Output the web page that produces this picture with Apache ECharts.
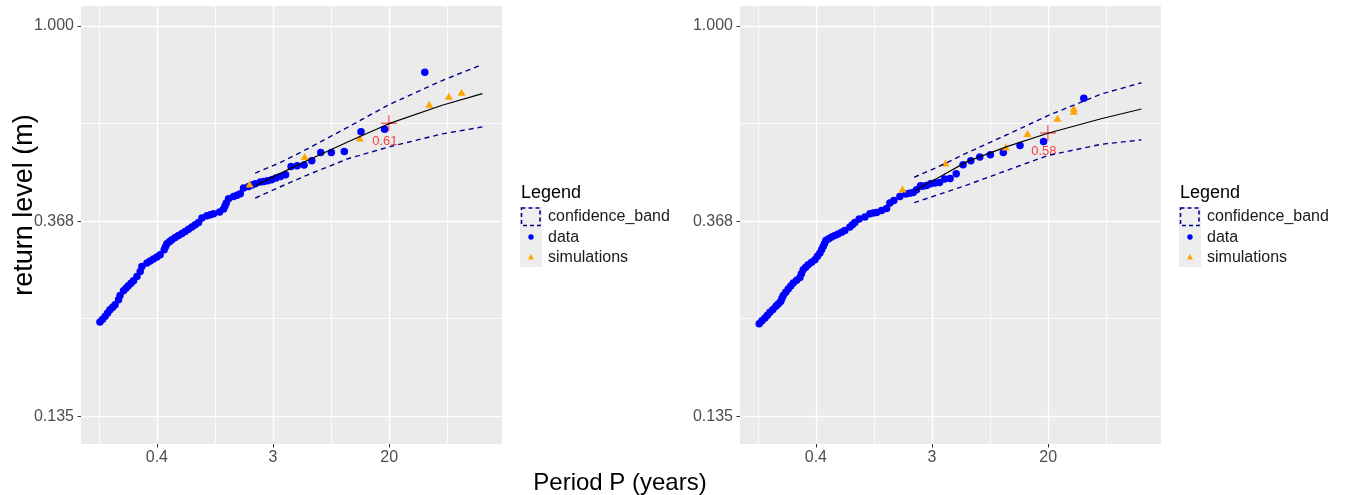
<!DOCTYPE html>
<html>
<head>
<meta charset="utf-8">
<script src="https://cdn.jsdelivr.net/npm/echarts@6/dist/echarts.min.js"></script>
<style>
  html, body { margin: 0; padding: 0; background: #fff; }
  #chart { width: 1349px; height: 495px; }
</style>
</head>
<body>
<div id="chart"></div>
<script>
// axis breaks (natural log scale on both axes)
const xBreaks = [-1, 1, 3];
const xBreakLabels = ["0.4", "3", "20"];
const xMinorBreaks = [-2, 0, 2, 4];
const yBreaks = [-2, -1, 0];
const yBreakLabels = ["0.135", "0.368", "1.000"];
const yMinorBreaks = [-1.5, -0.5];

// left panel: observed return levels
const leftObsPeriod = [0.138, 0.1445, 0.151, 0.1575, 0.164, 0.1717, 0.179, 0.190, 0.195, 0.207, 0.2159, 0.225, 0.2354, 0.246, 0.261, 0.276, 0.284, 0.310, 0.3277, 0.347, 0.3679, 0.389, 0.417, 0.4267, 0.437, 0.4564, 0.476, 0.5043, 0.534, 0.5661, 0.599, 0.6343, 0.673, 0.712, 0.754, 0.799, 0.871, 0.9222, 0.976, 1.083, 1.160, 1.1882, 1.215, 1.264, 1.378, 1.461, 1.547, 1.637, 1.785, 1.8925, 2.003, 2.184, 2.319, 2.473, 2.650, 2.854, 3.092, 3.373, 3.710, 4.122, 4.638, 5.300, 6.183, 7.420, 9.275, 12.37, 18.55, 37.10];
const leftObsLevel = [0.2194, 0.2226, 0.2258, 0.2298, 0.2337, 0.2367, 0.2397, 0.2460, 0.2514, 0.2576, 0.2609, 0.2642, 0.2676, 0.2711, 0.2771, 0.2843, 0.2917, 0.2968, 0.2998, 0.3029, 0.3061, 0.3097, 0.3177, 0.3226, 0.3276, 0.3310, 0.3344, 0.3382, 0.3418, 0.3453, 0.3489, 0.3529, 0.3568, 0.3611, 0.3654, 0.3737, 0.3781, 0.3800, 0.3820, 0.3853, 0.3913, 0.3973, 0.4035, 0.4125, 0.4174, 0.4199, 0.4232, 0.4357, 0.4393, 0.4424, 0.4454, 0.4493, 0.4507, 0.4523, 0.4546, 0.4586, 0.4624, 0.4664, 0.4867, 0.4884, 0.4901, 0.5010, 0.5228, 0.5228, 0.5254, 0.5812, 0.5893, 0.7890];
const leftSimPeriod = [1.816, 4.687, 12.10, 40.03, 56.13, 69.87];
const leftSimLevel = [0.4447, 0.5122, 0.5628, 0.6698, 0.6977, 0.7122];
const leftFitPeriod = [2, 3, 5, 10, 20, 50, 100];
const leftFitLevel = [0.441, 0.468, 0.503, 0.553, 0.606, 0.666, 0.707];
const leftFitUpper = [0.4705, 0.4947, 0.534, 0.5966, 0.668, 0.7558, 0.8207];
const leftFitLower = [0.414, 0.437, 0.4669, 0.507, 0.538, 0.575, 0.596];
const leftMark = [20, 0.607];

// right panel
const rightObsPeriod = [0.1386, 0.1452, 0.1529, 0.1596, 0.1667, 0.1755, 0.1848, 0.1923, 0.2004, 0.2049, 0.2096, 0.2188, 0.2284, 0.2384, 0.2489, 0.2639, 0.2793, 0.2866, 0.2956, 0.3086, 0.3222, 0.3416, 0.3616, 0.3775, 0.3941, 0.4058, 0.4171, 0.4273, 0.4370, 0.4585, 0.4820, 0.5102, 0.5400, 0.5725, 0.6060, 0.6605, 0.6895, 0.7199, 0.7752, 0.8551, 0.9318, 0.9863, 1.0458, 1.1397, 1.2422, 1.3148, 1.4085, 1.5617, 1.7316, 1.8454, 1.9635, 2.0818, 2.2303, 2.319, 2.473, 2.650, 2.854, 3.092, 3.373, 3.710, 4.122, 4.638, 5.300, 6.183, 7.420, 9.275, 12.37, 18.55, 37.10];
const rightObsLevel = [0.2175, 0.2209, 0.2240, 0.2272, 0.2305, 0.2340, 0.2377, 0.2407, 0.2438, 0.2476, 0.2514, 0.2556, 0.2598, 0.2638, 0.2679, 0.2718, 0.2757, 0.2810, 0.2868, 0.2905, 0.2942, 0.2980, 0.3018, 0.3073, 0.3124, 0.3177, 0.3231, 0.3281, 0.3332, 0.3361, 0.3391, 0.3416, 0.3443, 0.3475, 0.3507, 0.3568, 0.3611, 0.3654, 0.3718, 0.3756, 0.3820, 0.3834, 0.3845, 0.3885, 0.3925, 0.4035, 0.4089, 0.4174, 0.4225, 0.4242, 0.4260, 0.4319, 0.4409, 0.4397, 0.4415, 0.4454, 0.4470, 0.4484, 0.4563, 0.4576, 0.4688, 0.4909, 0.5010, 0.5106, 0.5167, 0.5228, 0.5419, 0.5531, 0.6907];
const rightSimPeriod = [1.636, 3.429, 9.682, 14.07, 23.57, 31.20, 31.20];
const rightSimLevel = [0.4335, 0.4952, 0.5375, 0.5762, 0.6234, 0.6562, 0.6462];
const rightFitPeriod = [2, 3, 5, 10, 20, 50, 100];
const rightFitLevel = [0.4297, 0.459, 0.4995, 0.5394, 0.577, 0.6215, 0.6532];
const rightFitUpper = [0.4605, 0.4854, 0.5223, 0.5735, 0.6315, 0.7053, 0.7473];
const rightFitLower = [0.4043, 0.4208, 0.4429, 0.4777, 0.5149, 0.5452, 0.5576];
const rightMark = [20, 0.578];

const FONT = "'Liberation Sans', Arial, sans-serif";
const X_MIN = -2.307, X_MAX = 4.943;
const Y_MIN = -2.142, Y_MAX = 0.102;

const ln = Math.log;
function pts(ps, vs) {
  return ps.map((p, i) => [ln(p), ln(vs[i])]);
}
function labelFor(v, breaks, labels) {
  const i = breaks.findIndex(b => Math.abs(b - v) < 1e-6);
  return i >= 0 ? labels[i] : "";
}

function xAxisFor(gridIndex, minor) {
  return {
    type: "value", gridIndex: gridIndex, min: X_MIN, max: X_MAX,
    position: "bottom",
    axisLine: { show: false, onZero: false },
    axisTick: minor
      ? { show: false, customValues: xMinorBreaks }
      : { show: true, customValues: xBreaks, length: 3.5, lineStyle: { color: "#333", width: 1 } },
    axisLabel: minor
      ? { show: false }
      : { show: true, customValues: xBreaks, margin: 6, color: "#4D4D4D", fontSize: 16, fontFamily: FONT,
          formatter: v => labelFor(v, xBreaks, xBreakLabels) },
    splitLine: { show: true, lineStyle: { color: "#fff", width: minor ? 0.8 : 1.4 } }
  };
}
function yAxisFor(gridIndex, minor) {
  return {
    type: "value", gridIndex: gridIndex, min: Y_MIN, max: Y_MAX,
    position: "left",
    axisLine: { show: false, onZero: false },
    axisTick: minor
      ? { show: false, customValues: yMinorBreaks }
      : { show: true, customValues: yBreaks, length: 3.5, lineStyle: { color: "#333", width: 1 } },
    axisLabel: minor
      ? { show: false }
      : { show: true, customValues: yBreaks, margin: 7, color: "#4D4D4D", fontSize: 16, fontFamily: FONT,
          formatter: v => labelFor(v, yBreaks, yBreakLabels) },
    splitLine: { show: true, lineStyle: { color: "#fff", width: minor ? 0.8 : 1.4 } }
  };
}

function panelSeries(axisIdx, d) {
  const stackName = "band" + axisIdx;
  const base = { xAxisIndex: axisIdx, yAxisIndex: axisIdx, silent: true, animation: false };
  return [
    Object.assign({}, base, {
      type: "line", stack: stackName, symbol: "none",
      lineStyle: { opacity: 0 },
      data: pts(d.fitP, d.lower)
    }),
    Object.assign({}, base, {
      type: "line", stack: stackName, symbol: "none",
      lineStyle: { opacity: 0 },
      areaStyle: { color: "rgba(255,255,255,0.22)", opacity: 1 },
      data: d.fitP.map((p, i) => [ln(p), ln(d.upper[i]) - ln(d.lower[i])])
    }),
    Object.assign({}, base, {
      type: "line", symbol: "none",
      lineStyle: { color: "#00008B", width: 1.4, type: [5, 4] },
      data: pts(d.fitP, d.upper)
    }),
    Object.assign({}, base, {
      type: "line", symbol: "none",
      lineStyle: { color: "#00008B", width: 1.4, type: [5, 4] },
      data: pts(d.fitP, d.lower)
    }),
    Object.assign({}, base, {
      type: "line", symbol: "none",
      lineStyle: { color: "#000", width: 1.2 },
      data: pts(d.fitP, d.level)
    }),
    Object.assign({}, base, {
      type: "scatter", symbol: "circle", symbolSize: 7.5,
      itemStyle: { color: "#0000FF", opacity: 1 },
      data: pts(d.obsP, d.obsL)
    }),
    Object.assign({}, base, {
      type: "scatter", symbol: "triangle", symbolSize: [8, 7],
      itemStyle: { color: "#FFA500", opacity: 1 },
      data: pts(d.simP, d.simL)
    }),
    Object.assign({}, base, {
      type: "scatter",
      symbol: "path://M7.5,0h1v16h-1zM0,7.5h16v1h-16z", symbolSize: 16,
      itemStyle: { color: "#FF0000", opacity: 0.85 },
      label: {
        show: true, position: "bottom", distance: 4, offset: [-4, 0],
        color: "#FF2020", fontSize: 13, fontFamily: FONT,
        formatter: () => d.mark[1].toFixed(2)
      },
      data: [[ln(d.mark[0]), ln(d.mark[1])]]
    })
  ];
}

function legendGroup(dx) {
  const lx = 520 + dx;
  return {
    type: "group", silent: true,
    children: [
      { type: "text", x: lx + 1, y: 193, style: { text: "Legend", fontSize: 18, fontFamily: FONT, fill: "#000", verticalAlign: "middle" } },
      { type: "rect", shape: { x: lx, y: 207, width: 22, height: 60 }, style: { fill: "#EDEDED" } },
      { type: "rect", shape: { x: lx + 1.5, y: 208, width: 18.5, height: 17.5 },
        style: { fill: "#F0F0F0", stroke: "#00008B", lineWidth: 1.6, lineDash: [4, 3] } },
      { type: "circle", shape: { cx: lx + 11, cy: 237, r: 2.7 }, style: { fill: "#0000FF" } },
      { type: "polygon", shape: { points: [[lx + 11, 254], [lx + 14, 259.5], [lx + 8, 259.5]] }, style: { fill: "#FFA500" } },
      { type: "text", x: lx + 28, y: 216.7, style: { text: "confidence_band", fontSize: 16, fontFamily: FONT, fill: "#1A1A1A", verticalAlign: "middle" } },
      { type: "text", x: lx + 28, y: 237.5, style: { text: "data", fontSize: 16, fontFamily: FONT, fill: "#1A1A1A", verticalAlign: "middle" } },
      { type: "text", x: lx + 28, y: 257.5, style: { text: "simulations", fontSize: 16, fontFamily: FONT, fill: "#1A1A1A", verticalAlign: "middle" } }
    ]
  };
}

const leftPanel = {
  obsP: leftObsPeriod, obsL: leftObsLevel, simP: leftSimPeriod, simL: leftSimLevel,
  fitP: leftFitPeriod, level: leftFitLevel, upper: leftFitUpper, lower: leftFitLower, mark: leftMark
};
const rightPanel = {
  obsP: rightObsPeriod, obsL: rightObsLevel, simP: rightSimPeriod, simL: rightSimLevel,
  fitP: rightFitPeriod, level: rightFitLevel, upper: rightFitUpper, lower: rightFitLower, mark: rightMark
};

const chart = echarts.init(document.getElementById("chart"), null, { renderer: "canvas" });
const option = {
  animation: false,
  backgroundColor: "#fff",
  grid: [
    { left: 81, top: 6, width: 421, height: 438, show: true, backgroundColor: "#EBEBEB", borderWidth: 0 },
    { left: 740, top: 6, width: 421, height: 438, show: true, backgroundColor: "#EBEBEB", borderWidth: 0 }
  ],
  // index 0/2: major axes, 1/3: minor grid lines only
  xAxis: [xAxisFor(0, false), xAxisFor(0, true), xAxisFor(1, false), xAxisFor(1, true)],
  yAxis: [yAxisFor(0, false), yAxisFor(0, true), yAxisFor(1, false), yAxisFor(1, true)],
  series: panelSeries(0, leftPanel).concat(panelSeries(2, rightPanel)),
  graphic: [
    legendGroup(0),
    legendGroup(659),
    { type: "text", x: 25, y: 205, rotation: Math.PI / 2, silent: true,
      style: { text: "return level (m)", fontSize: 27, fontFamily: FONT, fill: "#000", align: "center", verticalAlign: "middle" } },
    { type: "text", x: 620, y: 483, silent: true,
      style: { text: "Period P (years)", fontSize: 24, fontFamily: FONT, fill: "#000", align: "center", verticalAlign: "middle" } }
  ]
};
chart.setOption(option);
window.onresize = chart.resize;
</script>
</body>
</html>
